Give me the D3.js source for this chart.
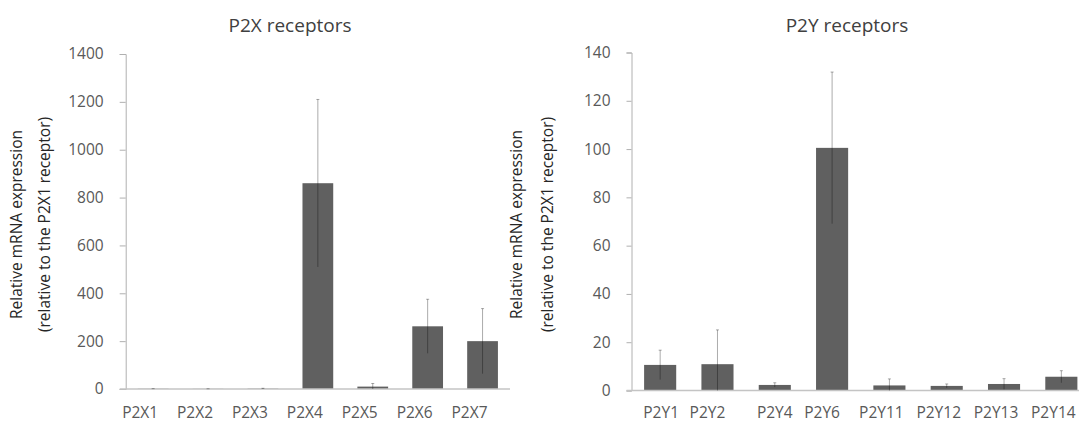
<!DOCTYPE html>
<html>
<head>
<meta charset="utf-8">
<script src="https://cdn.jsdelivr.net/npm/d3@7"></script>
<style>
  html, body { margin: 0; padding: 0; background: #fff; }
  svg { display: block; font-family: "Open Sans", "Noto Sans", sans-serif; }
</style>
</head>
<body>
<svg id="chart" width="1079" height="423"></svg>
<script>
// P2X receptor panel
const p2xCategories = ["P2X1", "P2X2", "P2X3", "P2X4", "P2X5", "P2X6", "P2X7"];
const p2xMeans = [1, 0.6, 1.5, 860, 10, 262, 200];
const p2xErrors = [0.4, 0.3, 1.5, 350, 13, 113, 136];
const p2xTicks = [0, 200, 400, 600, 800, 1000, 1200, 1400];

// P2Y receptor panel
const p2yCategories = ["P2Y1", "P2Y2", "P2Y4", "P2Y6", "P2Y11", "P2Y12", "P2Y13", "P2Y14"];
const p2yMeans = [10.6, 10.9, 2.3, 100.5, 2.1, 1.9, 2.7, 5.7];
const p2yErrors = [6.1, 14.2, 0.9, 31.4, 2.7, 0.8, 2.2, 2.5];
const p2yTicks = [0, 20, 40, 60, 80, 100, 120, 140];

const yTitleLines = ["Relative mRNA expression", "(relative to the P2X1 receptor)"];

const svg = d3.select("#chart");
svg.append("rect").attr("width", 1079).attr("height", 423).attr("fill", "#fff");

const textColor = "#595959";

function panel(opts) {
  const { title, cats, means, errs, ticks, xRange, yRange, yMax, titleX,
          yTitleX, labelShift, tickSize } = opts;

  const g = svg.append("g");
  const x = d3.scaleBand().domain(cats).range(xRange).padding(0);
  const y = d3.scaleLinear().domain([0, yMax]).range(yRange);
  const barW = x.bandwidth() * 0.56;

  // title
  g.append("text")
    .attr("x", titleX).attr("y", 32)
    .attr("text-anchor", "middle")
    .attr("font-size", 19)
    .attr("fill", "#404040")
    .text(title);

  // y axis
  const yAxis = g.append("g")
    .attr("transform", `translate(${xRange[0]},0)`)
    .call(d3.axisLeft(y).tickValues(ticks).tickFormat(d3.format("d"))
      .tickSize(tickSize).tickPadding(16));
  yAxis.select(".domain").attr("stroke", "#b0b0b0").attr("stroke-width", 1);
  yAxis.selectAll(".tick line").attr("stroke", "#b0b0b0");
  yAxis.selectAll(".tick text")
    .attr("font-size", 15.5).attr("fill", textColor)
    .attr("font-family", "'Open Sans', sans-serif");

  // bars
  g.selectAll("rect.bar").data(cats).join("rect")
    .attr("class", "bar")
    .attr("x", (d) => x(d) + (x.bandwidth() - barW) / 2)
    .attr("width", barW)
    .attr("y", (d, i) => y(means[i]))
    .attr("height", (d, i) => y(0) - y(means[i]))
    .attr("fill", "#606060");

  // x axis baseline
  g.append("line")
    .attr("x1", xRange[0] - tickSize).attr("x2", xRange[1])
    .attr("y1", y(0)).attr("y2", y(0))
    .attr("stroke", "#c4c4c4").attr("stroke-width", 1.5);

  // error bars
  const eb = g.selectAll("g.err").data(cats).join("g").attr("class", "err");
  const cx = (d) => x(d) + x.bandwidth() / 2;
  eb.append("line")
    .attr("x1", cx).attr("x2", cx)
    .attr("y1", (d, i) => y(means[i] + errs[i]))
    .attr("y2", (d, i) => y(Math.max(0, means[i] - errs[i])))
    .attr("stroke", "rgba(0,0,0,0.33)").attr("stroke-width", 1);
  eb.append("line")
    .attr("x1", (d) => cx(d) - 1.5).attr("x2", (d) => cx(d) + 1.5)
    .attr("y1", (d, i) => y(means[i] + errs[i]))
    .attr("y2", (d, i) => y(means[i] + errs[i]))
    .attr("stroke", "rgba(0,0,0,0.33)").attr("stroke-width", 1);

  // category labels
  g.selectAll("text.cat").data(cats).join("text")
    .attr("class", "cat")
    .attr("x", (d, i) => cx(d) + labelShift[i])
    .attr("y", 418)
    .attr("text-anchor", "middle")
    .attr("font-size", 15.5)
    .attr("fill", textColor)
    .text((d) => d);

  // y axis title (two lines, rotated)
  yTitleLines.forEach((line, i) => {
    g.append("text")
      .attr("transform", `translate(${yTitleX[i]},${(yRange[0] + yRange[1]) / 2 + 3}) rotate(-90)`)
      .attr("text-anchor", "middle")
      .attr("dy", "0.35em")
      .attr("font-size", 15.5)
      .attr("fill", "#262626")
      .text(line);
  });
}

panel({
  title: "P2X receptors",
  cats: p2xCategories, means: p2xMeans, errs: p2xErrors, ticks: p2xTicks,
  xRange: [125.7, 510], yRange: [389, 54], yMax: 1400,
  titleX: 290, yTitleX: [17, 45],
  labelShift: [-13, -13, -13, -13, -13, -13, -13],
  tickSize: 6
});

panel({
  title: "P2Y receptors",
  cats: p2yCategories, means: p2yMeans, errs: p2yErrors, ticks: p2yTicks,
  xRange: [631.5, 1090], yRange: [390.5, 52.5], yMax: 140,
  titleX: 847, yTitleX: [517, 548],
  labelShift: [1, -10, 0, -10, -8, -8, -8, -8],
  tickSize: 5
});
</script>
</body>
</html>
